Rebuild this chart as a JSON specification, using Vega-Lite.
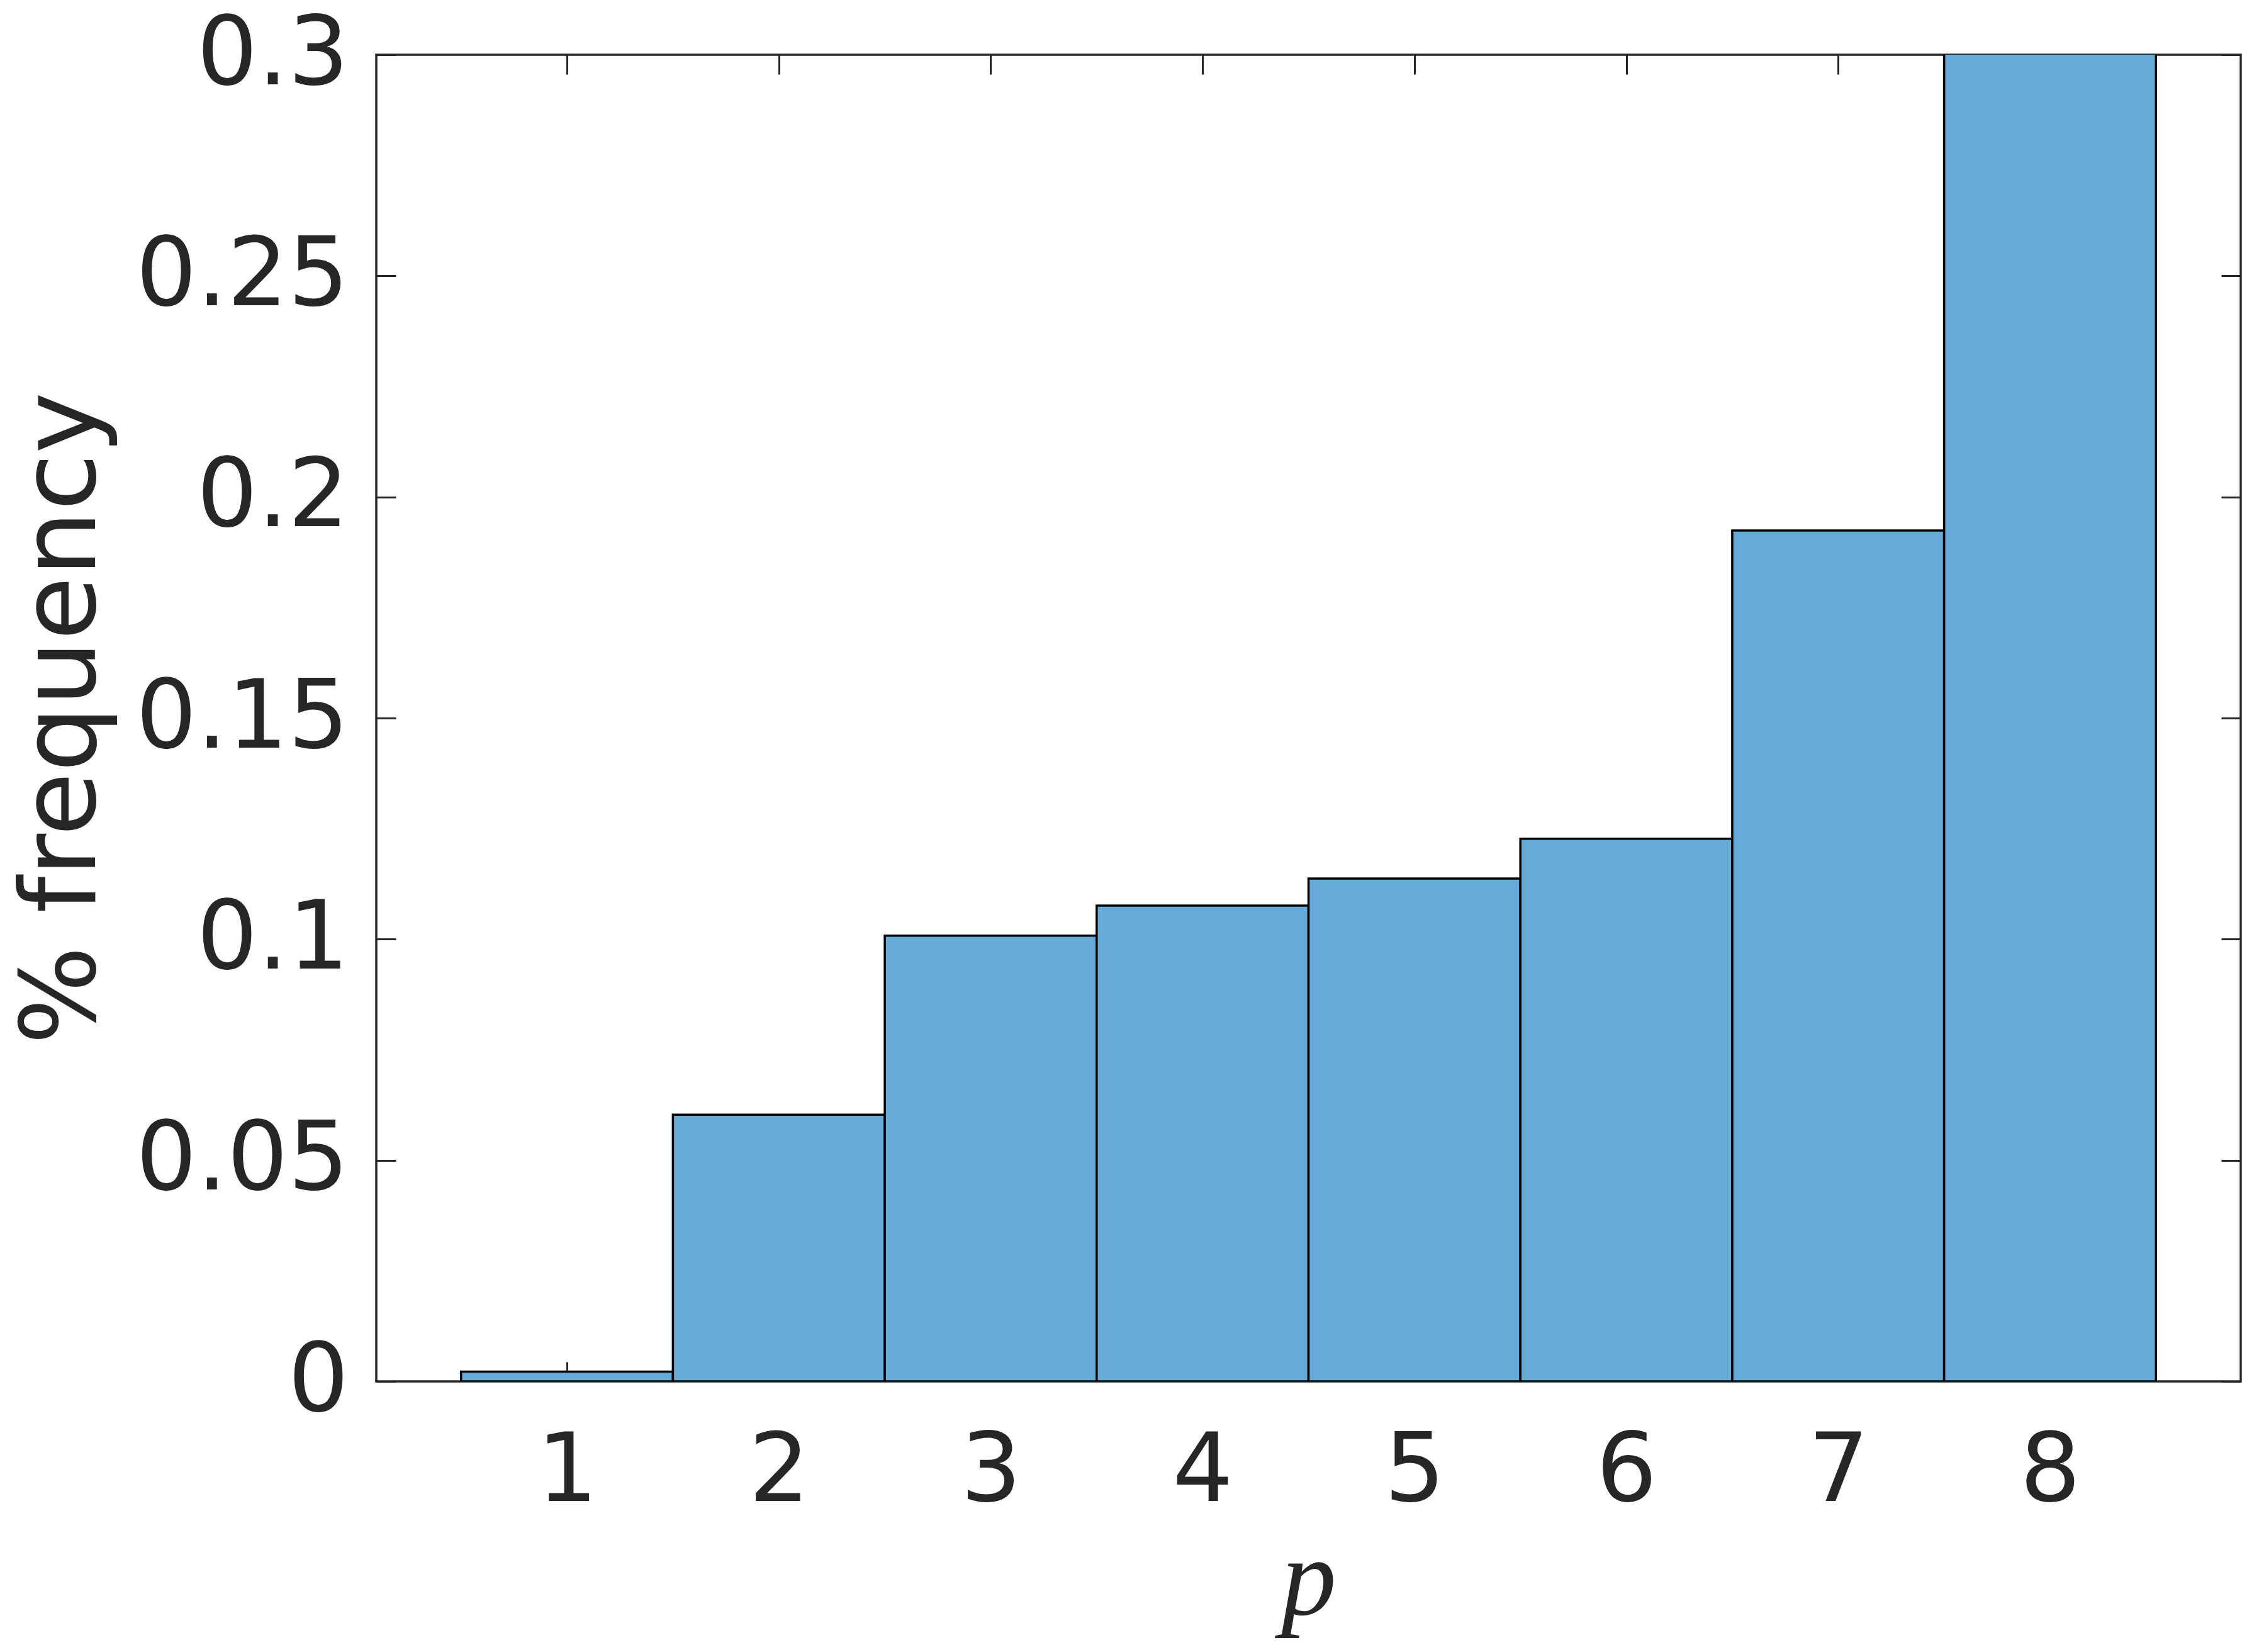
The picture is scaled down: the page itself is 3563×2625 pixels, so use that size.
{
  "$schema": "https://vega.github.io/schema/vega-lite/v6.json",
  "autosize": {"type": "none"},
  "padding": {"left": 598, "top": 87, "right": 2, "bottom": 430},
  "width": 2963,
  "height": 2108,
  "background": "white",
  "config": {
    "view": {"stroke": "#262626", "strokeWidth": 3.5},
    "axis": {
      "domain": false,
      "grid": false,
      "tickColor": "#262626",
      "tickWidth": 3,
      "tickSize": -31,
      "labelFont": "DejaVu Sans",
      "labelFontSize": 152,
      "labelColor": "#262626",
      "labelOverlap": false,
      "labelLimit": 0,
      "titleLimit": 0,
      "titleColor": "#262626",
      "titleFontWeight": "normal"
    }
  },
  "data": {
    "values": [
      {"p": 1, "lo": 0.5, "hi": 1.5, "freq": 0.0022},
      {"p": 2, "lo": 1.5, "hi": 2.5, "freq": 0.0603},
      {"p": 3, "lo": 2.5, "hi": 3.5, "freq": 0.1008},
      {"p": 4, "lo": 3.5, "hi": 4.5, "freq": 0.1076},
      {"p": 5, "lo": 4.5, "hi": 5.5, "freq": 0.1137},
      {"p": 6, "lo": 5.5, "hi": 6.5, "freq": 0.1227},
      {"p": 7, "lo": 6.5, "hi": 7.5, "freq": 0.1924},
      {"p": 8, "lo": 7.5, "hi": 8.5, "freq": 0.3003}
    ]
  },
  "layer": [
    {
      "mark": {"type": "bar", "fill": "#66AAD7", "stroke": "#000000", "strokeWidth": 3.5, "clip": true},
      "encoding": {
        "x": {
          "field": "lo",
          "type": "quantitative",
          "scale": {"domain": [0.1, 8.9], "nice": false, "zero": false},
          "axis": {
            "orient": "bottom",
            "values": [1, 2, 3, 4, 5, 6, 7, 8],
            "labelPadding": 100,
            "labelFlush": false,
            "title": "p",
            "titleFont": "Liberation Serif",
            "titleFontStyle": "italic",
            "titleFontSize": 175,
            "titleX": 1481.5,
            "titleY": 370,
            "titleBaseline": "alphabetic",
            "titleAlign": "center"
          }
        },
        "x2": {"field": "hi"},
        "y": {
          "field": "freq",
          "type": "quantitative",
          "scale": {"domain": [0, 0.3], "nice": false},
          "axis": {
            "orient": "left",
            "values": [0, 0.05, 0.1, 0.15, 0.2, 0.25, 0.3],
            "format": "~g",
            "labelPadding": 75,
            "title": "% frequency",
            "titleFont": "DejaVu Sans",
            "titleFontSize": 165,
            "titleX": -448,
            "titleY": 1054,
            "titleAngle": -90,
            "titleBaseline": "alphabetic",
            "titleAlign": "center"
          }
        },
        "y2": {"datum": 0}
      }
    },
    {
      "mark": {"type": "bar", "opacity": 0},
      "encoding": {
        "x": {
          "field": "lo",
          "type": "quantitative",
          "axis": {"orient": "top", "values": [1, 2, 3, 4, 5, 6, 7, 8], "labels": false, "title": null}
        },
        "x2": {"field": "hi"},
        "y": {
          "field": "freq",
          "type": "quantitative",
          "axis": {"orient": "right", "values": [0, 0.05, 0.1, 0.15, 0.2, 0.25, 0.3], "labels": false, "title": null}
        },
        "y2": {"datum": 0}
      }
    }
  ],
  "resolve": {"axis": {"x": "independent", "y": "independent"}}
}
